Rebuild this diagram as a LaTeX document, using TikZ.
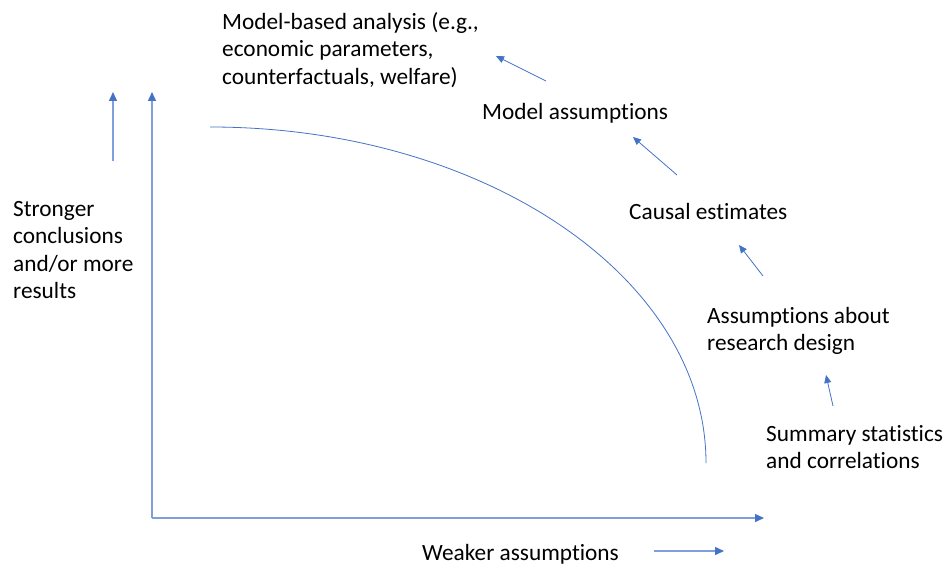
\documentclass[tikz,border=0pt]{standalone}
\usepackage{fontspec}
\setmainfont{Carlito}[Ligatures={NoCommon}]
\usetikzlibrary{arrows.meta}
\definecolor{ob}{HTML}{4472C4}
\definecolor{axb}{HTML}{7F9FDC}
\begin{document}
\begin{tikzpicture}[x=1pt,y=-1pt,
  lbl/.style={anchor=west,align=left,inner sep=0pt,font=\fontsize{23.3}{27.6}\selectfont},
  arr/.style={draw=ob,line width=0.8pt,-{Triangle[length=8pt,width=7pt]}},
  axarr/.style={draw=axb,line width=1.4pt,-{Triangle[length=9pt,width=8pt,color=ob]}}]
\useasboundingbox (0,0) rectangle (947,569);
% axes
\coordinate (O) at (152,518);
\coordinate (Ytop) at (152,92);
\coordinate (Xend) at (764,518);
\draw[axarr] (O) -- (Ytop);
\draw[axarr] (O) -- (Xend);
% side arrows
\coordinate (sa1) at (113,161);
\coordinate (sa2) at (113,92);
\draw[axarr] (sa1) -- (sa2);
\coordinate (wa1) at (654,551);
\coordinate (wa2) at (724,551);
\draw[axarr] (wa1) -- (wa2);
% curve
\coordinate (c0) at (210,127);
\draw[ob,line width=0.8pt] (c0) arc[start angle=90,end angle=0,x radius=496,y radius=-336];
% labels
\node[lbl] (mba) at (222,50) {Model-based analysis (e.g.,\\economic parameters,\\counterfactuals, welfare)};
\node[lbl] (ma) at (482,113) {Model assumptions};
\node[lbl] (ce) at (629,211) {Causal estimates};
\node[lbl] (ard) at (707,331) {Assumptions about\\research design};
\node[lbl] (ss) at (766,447) {Summary statistics\\and correlations};
\node[lbl] (sc) at (13,250) {Stronger\\conclusions\\and/or more\\results};
\node[lbl] (wa) at (422,554) {Weaker assumptions};
% small arrows
\coordinate (a1s) at (546,81); \coordinate (a1e) at (496,56);
\coordinate (a2s) at (677,175); \coordinate (a2e) at (633,137);
\coordinate (a3s) at (763,276); \coordinate (a3e) at (739,245);
\coordinate (a4s) at (833,406); \coordinate (a4e) at (826,375);
\draw[arr] (a1s) -- (a1e);
\draw[arr] (a2s) -- (a2e);
\draw[arr] (a3s) -- (a3e);
\draw[arr] (a4s) -- (a4e);
\end{tikzpicture}
\end{document}
